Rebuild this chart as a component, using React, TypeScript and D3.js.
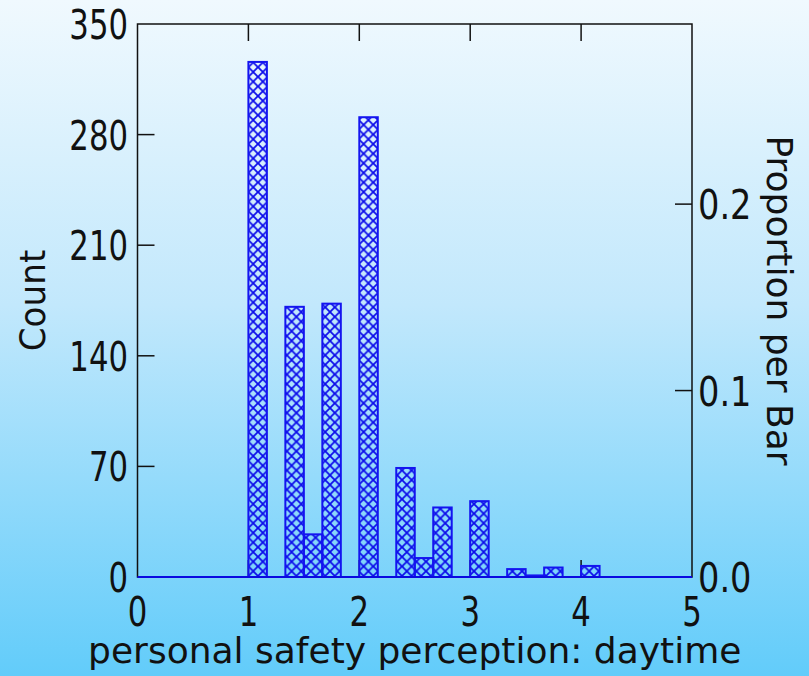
import React from "react";
import * as d3 from "d3";

// histogram bins (left / right edges) and counts
const binLo = [1, 4 / 3, 3 / 2, 5 / 3, 2, 7 / 3, 5 / 2, 8 / 3, 3, 10 / 3, 7 / 2, 11 / 3, 4];
const binHi = [7 / 6, 3 / 2, 5 / 3, 11 / 6, 13 / 6, 5 / 2, 8 / 3, 17 / 6, 19 / 6, 7 / 2, 11 / 3, 23 / 6, 25 / 6];
const counts = [326, 171, 27, 173, 291, 69, 12, 44, 48, 5, 1, 6, 7];

const xTicks = [0, 1, 2, 3, 4, 5];
const countTicks = [0, 70, 140, 210, 280, 350];
const propTicks = [0.0, 0.1, 0.2];

const W = 809;
const H = 676;
const margin = { top: 24, right: 117, bottom: 99, left: 137.5 };
const FONT = "'DejaVu Sans', sans-serif";

const STxt = ({ x, y, sx = 1, rot = 0, size, anchor, children }: any) => (
  <text
    transform={`translate(${x},${y}) rotate(${rot}) scale(${sx},1)`}
    textAnchor={anchor}
    fontSize={size}
    fontFamily={FONT}
    fill="#111"
  >
    {children}
  </text>
);

export default function App() {
  const x0 = margin.left;
  const x1 = W - margin.right;
  const y0 = H - margin.bottom;
  const y1 = margin.top;

  const x = d3.scaleLinear().domain([0, 5]).range([x0, x1]);
  const y = d3.scaleLinear().domain([0, 350]).range([y0, y1]);
  const total = d3.sum(counts);
  const yProp = (p: number) => y(p * total);

  const tickLen = 17;
  const hp = 9.6; // hatch period

  return (
    <svg width={W} height={H} style={{ position: "absolute", left: 0, top: 0 }}>
      <defs>
        <linearGradient id="bg" x1="0" y1="0" x2="0" y2="1">
          <stop offset="0" stopColor="#f0f9fe" />
          <stop offset="0.45" stopColor="#c2e8fc" />
          <stop offset="1" stopColor="#62ccfa" />
        </linearGradient>
        <pattern id="hatch" patternUnits="userSpaceOnUse" width={hp} height={hp} x={x(1)} y={0}>
          <path d={`M0,0 L${hp},${hp} M${hp},0 L0,${hp}`} stroke="#0c0cea" strokeWidth="1.8" />
        </pattern>
      </defs>
      <rect x={0} y={0} width={W} height={H} fill="url(#bg)" />

      {/* frame */}
      <rect x={x0} y={y1} width={x1 - x0} height={y0 - y1} fill="none" stroke="#111" strokeWidth={1.5} />

      {/* top + bottom ticks */}
      {xTicks.slice(1, -1).map((t) => (
        <g key={"xt" + t}>
          <line x1={x(t)} x2={x(t)} y1={y1} y2={y1 + tickLen} stroke="#111" strokeWidth={1.5} />
          <line x1={x(t)} x2={x(t)} y1={y0} y2={y0 - tickLen} stroke="#111" strokeWidth={1.5} />
        </g>
      ))}
      {/* left ticks */}
      {countTicks.slice(1, -1).map((t) => (
        <line key={"yt" + t} x1={x0} x2={x0 + tickLen} y1={y(t)} y2={y(t)} stroke="#111" strokeWidth={1.5} />
      ))}
      {/* right ticks */}
      {propTicks.slice(1).map((t) => (
        <line key={"pt" + t} x1={x1} x2={x1 - tickLen} y1={yProp(t)} y2={yProp(t)} stroke="#111" strokeWidth={1.5} />
      ))}

      {/* bars */}
      {counts.map((c, i) => (
        <rect
          key={"b" + i}
          x={x(binLo[i])}
          y={y(c)}
          width={x(binHi[i]) - x(binLo[i])}
          height={y0 - y(c)}
          fill="url(#hatch)"
          stroke="#1414f0"
          strokeWidth={2}
        />
      ))}
      <line x1={x0} x2={x1} y1={y0} y2={y0} stroke="#0a0ae0" strokeWidth={2.2} />

      {/* tick labels */}
      {countTicks.map((t) => (
        <STxt key={"yl" + t} x={128} y={y(t) + 15} sx={0.75} size={41} anchor="end">
          {t}
        </STxt>
      ))}
      {propTicks.map((t) => (
        <STxt key={"pl" + t} x={698} y={yProp(t) + 15} sx={0.82} size={41} anchor="start">
          {t.toFixed(1)}
        </STxt>
      ))}
      {xTicks.map((t) => (
        <STxt key={"xl" + t} x={x(t)} y={626} sx={0.75} size={41} anchor="middle">
          {t}
        </STxt>
      ))}

      {/* axis titles */}
      <STxt x={(x0 + x1) / 2} y={663} size={36} anchor="middle">
        personal safety perception: daytime
      </STxt>
      <STxt x={45} y={(y0 + y1) / 2} rot={-90} sx={0.95} size={36} anchor="middle">
        Count
      </STxt>
      <STxt x={767} y={(y0 + y1) / 2} rot={90} size={36} anchor="middle">
        Proportion per Bar
      </STxt>
    </svg>
  );
}
